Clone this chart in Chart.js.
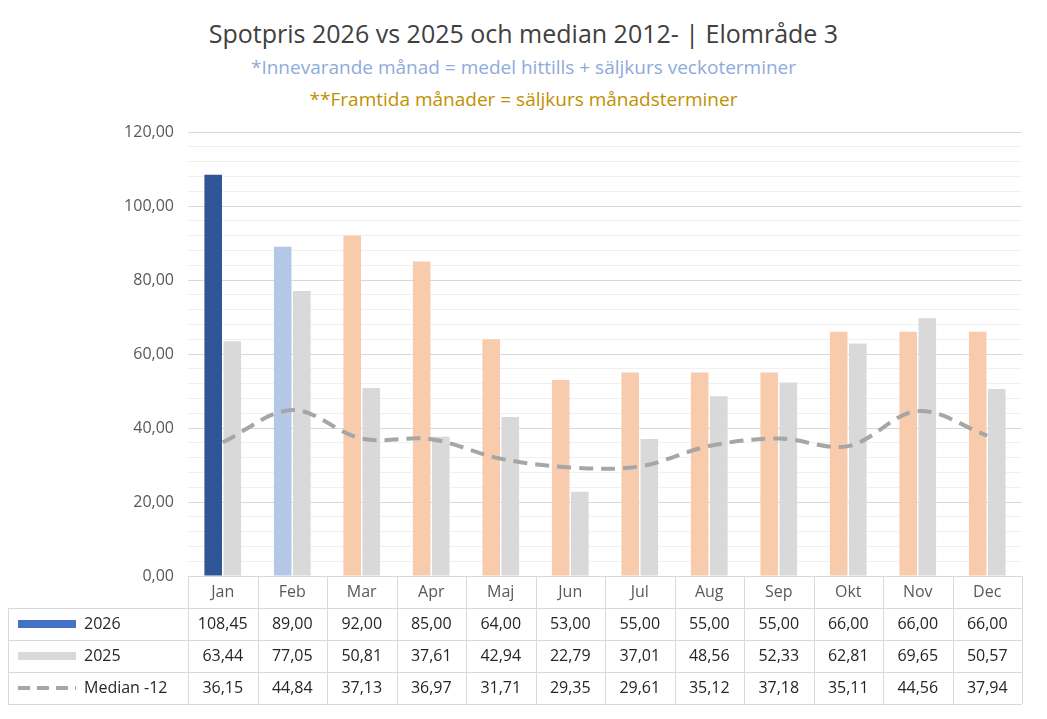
<!DOCTYPE html>
<html><head><meta charset="utf-8">
<script src="https://cdn.jsdelivr.net/npm/chart.js@4/dist/chart.umd.min.js"></script>
<style>
body{margin:0;background:#fff;font-family:"Open Sans",Calibri,sans-serif;}
#wrap{position:relative;width:1047px;height:719px;}
.t{position:absolute;left:0;width:1047px;text-align:center;}
</style></head><body>
<div id="wrap">
<div class="t" style="top:16px;font-size:25px;color:#404040;">Spotpris 2026 vs 2025 och median 2012- | Elområde 3</div>
<div class="t" style="top:54px;font-size:19px;color:#8faadc;">*Innevarande månad = medel hittills + säljkurs veckoterminer</div>
<div class="t" style="top:86px;font-size:19px;color:#bf9000;">**Framtida månader = säljkurs månadsterminer</div>
<canvas id="c" width="1047" height="719" style="position:absolute;left:0;top:0;"></canvas>
</div>
<script>
const months = ['Jan','Feb','Mar','Apr','Maj','Jun','Jul','Aug','Sep','Okt','Nov','Dec'];
const spot2026 = [108.45, 89.00, 92.00, 85.00, 64.00, 53.00, 55.00, 55.00, 55.00, 66.00, 66.00, 66.00];
const spot2025 = [63.44, 77.05, 50.81, 37.61, 42.94, 22.79, 37.01, 48.56, 52.33, 62.81, 69.65, 50.57];
const median12 = [36.15, 44.84, 37.13, 36.97, 31.71, 29.35, 29.61, 35.12, 37.18, 35.11, 44.56, 37.94];
const colors2026 = ['#2f5597', '#b4c7e7', '#f8cbad', '#f8cbad', '#f8cbad', '#f8cbad', '#f8cbad', '#f8cbad', '#f8cbad', '#f8cbad', '#f8cbad', '#f8cbad'];
const seriesNames = ['2026', '2025', 'Median -12'];

const fmt = v => v.toFixed(2).replace('.', ',');
const FONT = '"Open Sans", sans-serif';

// data table under the plot
const tablePlugin = {
    id: 'table',
    afterDraw(chart) {
        const ctx = chart.ctx;
        const x = chart.scales.x;
        const area = chart.chartArea;
        const rowH = 32;
        const top = area.bottom;
        const colW = (area.right - area.left) / months.length;
        ctx.save();
        ctx.strokeStyle = '#d9d9d9';
        ctx.lineWidth = 1;
        for (let r = 0; r <= 4; r++) {
            const y = Math.round(top + r * rowH) + 0.5;
            ctx.beginPath();
            ctx.moveTo(r === 0 ? area.left : 8, y);
            ctx.lineTo(area.right, y);
            ctx.stroke();
        }
        for (let i = 0; i <= months.length; i++) {
            const xx = Math.round(area.left + i * colW) + 0.5;
            ctx.beginPath();
            ctx.moveTo(xx, top);
            ctx.lineTo(xx, top + 4 * rowH);
            ctx.stroke();
        }
        ctx.beginPath();
        ctx.moveTo(8.5, top + rowH);
        ctx.lineTo(8.5, top + 4 * rowH);
        ctx.stroke();

        ctx.font = '16px ' + FONT;
        ctx.textAlign = 'center';
        ctx.textBaseline = 'middle';
        const rows = [spot2026, spot2025, median12];
        months.forEach((m, i) => {
            const cx = x.getPixelForValue(i);
            ctx.fillStyle = '#595959';
            ctx.fillText(m, cx, top + rowH / 2);
            ctx.fillStyle = '#262626';
            rows.forEach((row, r) => ctx.fillText(fmt(row[i]), cx, top + rowH * (r + 1.5)));
        });
        // legend keys
        ctx.textAlign = 'left';
        const ky = r => top + rowH * (r + 1.5);
        ctx.fillStyle = '#4472c4';
        ctx.fillRect(18, ky(0) - 4, 58, 8);
        ctx.fillStyle = '#d9d9d9';
        ctx.fillRect(18, ky(1) - 4, 58, 8);
        ctx.strokeStyle = '#a6a6a6';
        ctx.lineWidth = 4;
        ctx.setLineDash([12, 7]);
        ctx.beginPath();
        ctx.moveTo(18, ky(2));
        ctx.lineTo(76, ky(2));
        ctx.stroke();
        ctx.setLineDash([]);
        ctx.fillStyle = '#262626';
        seriesNames.forEach((n, r) => ctx.fillText(n, 84, ky(r)));
        ctx.restore();
    }
};

new Chart(document.getElementById('c'), {
    type: 'bar',
    data: {
        labels: months,
        datasets: [
            { label: seriesNames[2], type: 'line', data: median12, borderColor: '#a6a6a6', borderWidth: 4,
              borderDash: [14, 8], pointRadius: 0, tension: 0.35, order: 0 },
            { label: seriesNames[0], data: spot2026, backgroundColor: colors2026, order: 1,
              barPercentage: 0.92, categoryPercentage: 0.55 },
            { label: seriesNames[1], data: spot2025, backgroundColor: '#d9d9d9', order: 1,
              barPercentage: 0.92, categoryPercentage: 0.55 }
        ]
    },
    options: {
        responsive: false,
        animation: false,
        layout: { padding: { top: 132, bottom: 135, left: 8, right: 25 } },
        plugins: { legend: { display: false }, title: { display: false }, tooltip: { enabled: false } },
        scales: {
            x: {
                ticks: { display: false },
                grid: { display: false },
                border: { color: '#d9d9d9' }
            },
            y: {
                min: 0, max: 120,
                afterFit: s => { s.width = 180; },
                ticks: {
                    stepSize: 4,
                    autoSkip: false,
                    padding: 14,
                    color: '#595959',
                    font: { size: 16, family: FONT },
                    callback: v => (v % 20 === 0 ? fmt(v) : '')
                },
                grid: {
                    drawTicks: false,
                    color: c => (c.tick.value % 20 === 0 ? '#d9d9d9' : '#f0f0f0')
                },
                border: { display: false }
            }
        }
    },
    plugins: [tablePlugin]
});
</script>
</body></html>
